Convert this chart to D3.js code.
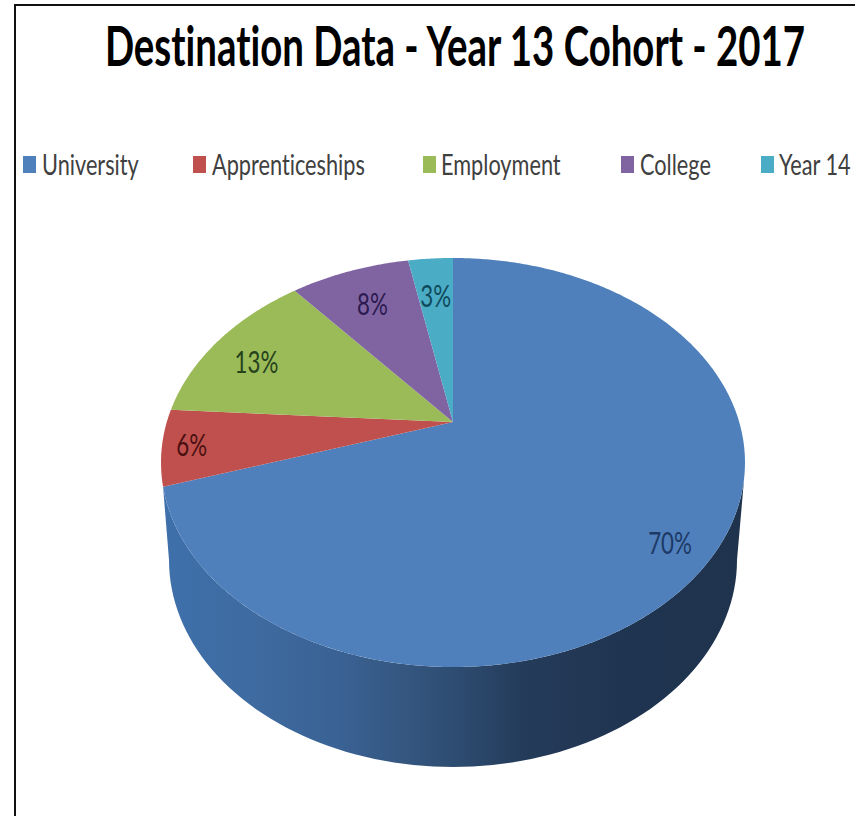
<!DOCTYPE html>
<html>
<head>
<meta charset="utf-8">
<style>
  html, body { margin: 0; padding: 0; background: #fff; }
  svg { display: block; }
  text { font-family: Lato, "Open Sans", sans-serif; font-variant-ligatures: none; }
</style>
<script src="https://cdn.jsdelivr.net/npm/d3@7/dist/d3.min.js"></script>
</head>
<body>
<svg id="chart" width="855" height="816"></svg>
<script>
// Destination shares of the cohort, in percent, clockwise from twelve o'clock.
const titleText = "Destination Data - Year 13 Cohort - 2017";
const categories = ["University", "Apprenticeships", "Employment", "College", "Year 14"];
const shares = [70, 6, 13, 8, 3];

// Palette and legend layout.
const sliceColors = ["#4f80bc", "#c0504d", "#9bbb59", "#8064a2", "#4bacc6"];
const labelColors = ["#1d3a66", "#4a1012", "#25421c", "#2b1a4f", "#0f4a5c"];
const legendSwatchX = [23, 193, 423, 621, 761];
const legendTextX = [42, 212, 441, 640, 779];

// Tilted-disc projection: maps a point of the unit disc to the page, with the
// near side enlarged so that the centre sits above the middle of the ellipse.
const apex = { x: 453, y: 422 };
const tilt = { a: 286.2, b: 196.5, p: -0.198 };
function project(angle, r) {
  const u = r * Math.sin(angle), v = -r * Math.cos(angle);
  const w = 1 + tilt.p * v;
  return [apex.x + tilt.a * u / w, apex.y + tilt.b * v / w];
}
const lineGen = d3.line();

function rimPoints(a0, a1) {
  const n = Math.max(2, Math.ceil(Math.abs(a1 - a0) / 0.01));
  return d3.range(n + 1).map(i => project(a0 + (a1 - a0) * i / n, 1));
}

const svg = d3.select("#chart");

// Frame: only the top and left rules show inside the page.
svg.append("path")
  .attr("d", "M855,5H15V816")
  .attr("fill", "none")
  .attr("stroke", "#111")
  .attr("stroke-width", 2);

const arcs = d3.pie().sort(null).value(d => d)(shares);

// Wall of the disc, lit from the left. Only the long slice shows it.
const defs = svg.append("defs");
const wallStops = [
  [0, "#3f70aa"], [0.15, "#3e6ba1"], [0.3, "#3a6294"], [0.42, "#34567f"],
  [0.52, "#2c4a6e"], [0.62, "#243b5a"], [0.8, "#1f3450"], [1, "#1f334d"]
];
const wallGradient = defs.append("linearGradient")
  .attr("id", "wall").attr("gradientUnits", "userSpaceOnUse")
  .attr("x1", 163).attr("x2", 745).attr("y1", 0).attr("y2", 0);
wallStops.forEach(s => wallGradient.append("stop").attr("offset", s[0]).attr("stop-color", s[1]));

// Outline of the wall: the near rim of the top face, then the lower edge of the
// disc's base walked back from left to right.
const base = { x: 453, y: 560, rx: 284, ry: 207 };
const baseRim = d3.range(180, -1, -2).map(deg => {
  const t = deg * Math.PI / 180;
  return [base.x + base.rx * Math.cos(t), base.y + base.ry * Math.sin(t)];
});
const blue = arcs[0];
const frontRim = rimPoints(blue.startAngle + 105 * Math.PI / 180, blue.endAngle);
svg.append("path")
  .attr("d", lineGen(frontRim.concat(baseRim)) + "Z")
  .attr("fill", "url(#wall)");

// Top face of the disc.
svg.append("g").selectAll("path")
  .data(arcs)
  .join("path")
  .attr("d", d => "M" + apex.x + "," + apex.y + "L" +
    rimPoints(d.startAngle, d.endAngle).map(p => p.join(",")).join("L") + "Z")
  .attr("fill", (d, i) => sliceColors[i]);

// Percentage labels, placed along each slice's bisector.
const labelRadius = [0.87, 0.9, 0.8, 0.75, 0.74];
const labelTurnDeg = [3, 0, -3, 0, 0];
const labelSqueeze = 0.72;
svg.append("g").selectAll("text")
  .data(arcs)
  .join("text")
  .attr("transform", (d, i) => {
    const mid = (d.startAngle + d.endAngle) / 2 + labelTurnDeg[i] * Math.PI / 180;
    const [x, y] = project(mid, labelRadius[i]);
    return `translate(${x},${y + 11}) scale(${labelSqueeze},1)`;
  })
  .attr("text-anchor", "middle")
  .attr("font-size", 31)
  .attr("fill", (d, i) => labelColors[i])
  .text(d => d.data + "%");

// Title.
svg.append("text")
  .attr("transform", "translate(455,66) scale(0.686,1)")
  .attr("text-anchor", "middle")
  .attr("font-size", 56)
  .attr("font-weight", 700)
  .attr("fill", "#000")
  .text(titleText);

// Legend.
const legend = svg.append("g").selectAll("g")
  .data(categories)
  .join("g");
legend.append("rect")
  .attr("x", (d, i) => legendSwatchX[i])
  .attr("y", 156)
  .attr("width", 13)
  .attr("height", 17)
  .attr("fill", (d, i) => sliceColors[i]);
legend.append("text")
  .attr("transform", (d, i) => `translate(${legendTextX[i]},175) scale(0.776,1)`)
  .attr("font-size", 28)
  .attr("fill", "#404040")
  .text(d => d);
</script>
</body>
</html>
